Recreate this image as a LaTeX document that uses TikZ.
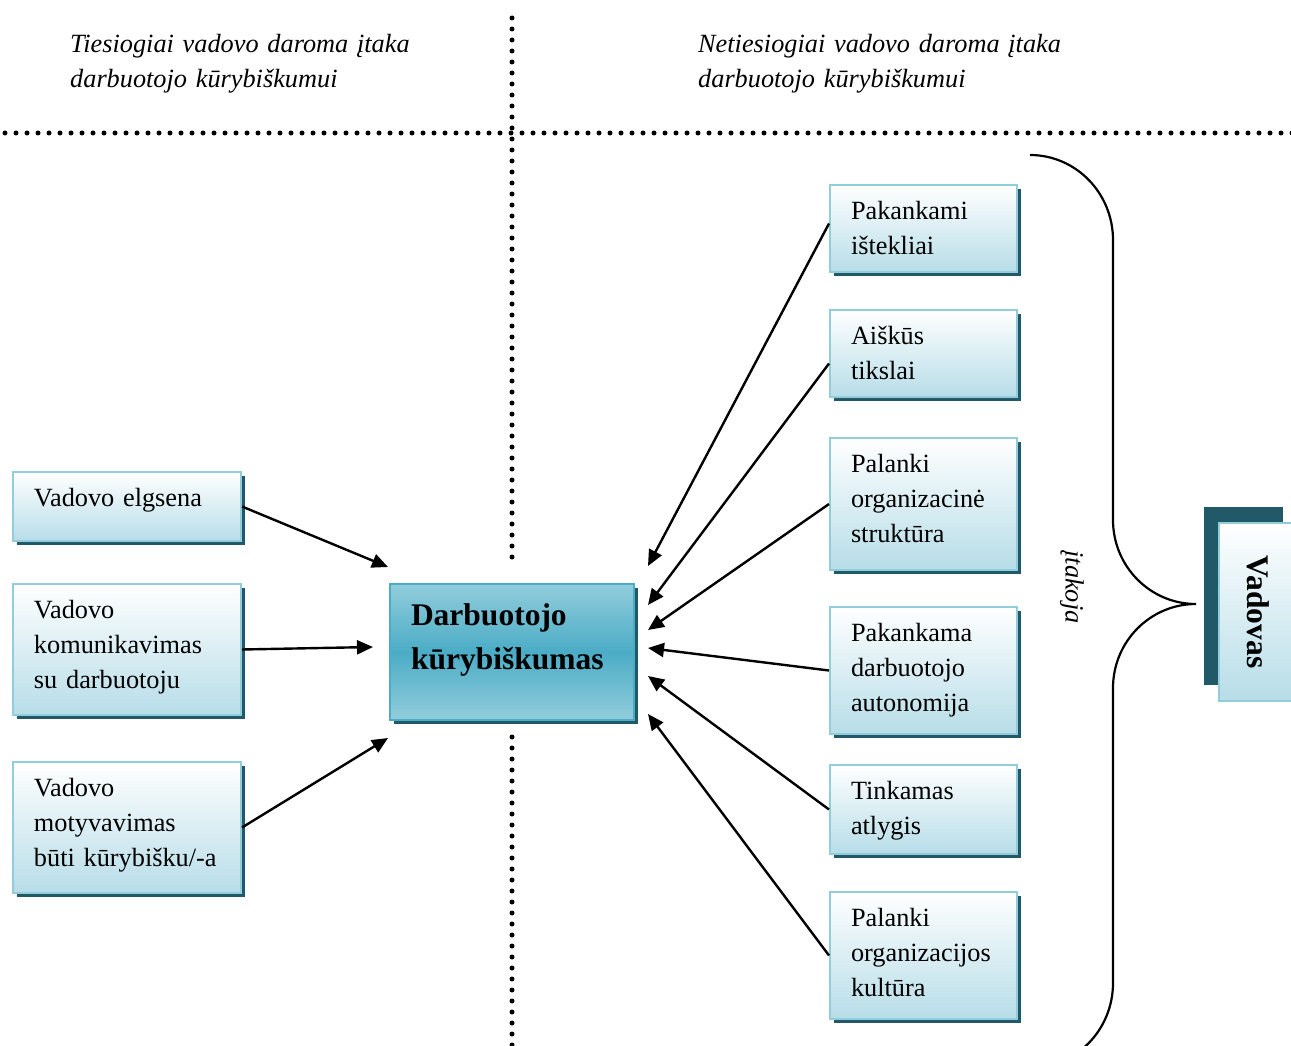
\documentclass[tikz,border=0pt]{standalone}
\usepackage{fontspec}
\setmainfont{Liberation Serif}
\usetikzlibrary{arrows.meta}
\usetikzlibrary{shadows}
\definecolor{boxline}{HTML}{92CDDC}
\definecolor{boxblue}{HTML}{B7DDE8}
\definecolor{coreblue}{HTML}{4BACC6}
\definecolor{shadowteal}{HTML}{215968}
\newcommand{\factorfont}{\fontsize{26.3}{35}\selectfont}
\newcommand{\keyfont}{\fontsize{31.5}{44}\selectfont\bfseries}
\hyphenpenalty=10000
\tikzset{
    panel/.style={
    draw=boxline,
    line width=2pt,
    top color=white,
    bottom color=boxblue,
    anchor=north west
    },
    factor/.style={
    panel,
    drop shadow={shadow xshift=4pt,shadow yshift=-4pt,fill=shadowteal,opacity=1},
    inner xsep=21pt,
    inner ysep=0pt,
    text height=34pt,
    align=left,
    font=\factorfont
    },
    leader/.style={
    panel,
    drop shadow={shadow xshift=-15pt,shadow yshift=16pt,fill=shadowteal,opacity=1},
    minimum width=79pt,
    minimum height=178pt,
    inner sep=0pt,
    font=\keyfont
    },
    heading/.style={anchor=base west,inner sep=0pt,text width=420pt,align=left,font=\factorfont\itshape},
    influence/.style={line width=2.4pt,-{Triangle[length=16pt,width=14pt]}},
    divider/.style={line width=5pt,line cap=round,dash pattern=on 0pt off 11pt}
}

\begin{document}
\begin{tikzpicture}[x=1pt,y=-1pt]
\useasboundingbox (0,0) rectangle (1291,1046);
% dotted dividers
\draw[divider] (5,133) -- (1296,133);
\draw[divider] (512,18) -- (512,567);
\draw[divider] (512,737) -- (512,1046);
\node[heading] (direct) at (70,53) {Tiesiogiai vadovo daroma įtaka\\darbuotojo kūrybiškumui};
\node[heading] (indirect) at (698,53) {Netiesiogiai vadovo daroma įtaka\\darbuotojo kūrybiškumui};
% direct influence
\node[factor,text width=186pt,text depth=35pt] (elgsena) at (12,471) {Vadovo elgsena};
\node[factor,text width=186pt,text depth=97pt] (komunik) at (12,583) {Vadovo\\komunikavimas\\su darbuotoju};
\node[factor,text width=186pt,text depth=97pt] (motyv) at (12,761) {Vadovo\\motyvavimas\\būti kūrybišku/-a};
% employee creativity
\node[panel,draw=coreblue,top color=boxline,bottom color=boxline,middle color=coreblue,
    drop shadow={shadow xshift=4pt,shadow yshift=-4pt,fill=shadowteal,opacity=1},
    inner xsep=21pt,inner ysep=0pt,text width=202pt,text height=41pt,text depth=95pt,
    align=left,font=\keyfont] (kuryb) at (389,583) {Darbuotojo\\kūrybiškumas};
% indirect influence
\node[factor,text width=145pt,text depth=53pt] (istekliai) at (829,184) {Pakankami\\ištekliai};
\node[factor,text width=145pt,text depth=53pt] (tikslai) at (829,309) {Aiškūs\\tikslai};
\node[factor,text width=145pt,text depth=98pt] (struktura) at (829,437) {Palanki\\organizacinė\\struktūra};
\node[factor,text width=145pt,text depth=93pt] (autonomija) at (829,606) {Pakankama\\darbuotojo\\autonomija};
\node[factor,text width=145pt,text depth=55pt] (atlygis) at (829,764) {Tinkamas\\atlygis};
\node[factor,text width=145pt,text depth=93pt] (kultura) at (829,891) {Palanki\\organizacijos\\kultūra};
% arrow ends round the centre box
\coordinate (inA) at (388,567);
\coordinate (inB) at (373,647);
\coordinate (inC) at (388,738);
\coordinate (in1) at (648,566);
\coordinate (in2) at (648,605);
\coordinate (in3) at (648,630);
\coordinate (in4) at (648,648);
\coordinate (in5) at (648,676);
\coordinate (in6) at (648,714);
\draw[influence] (elgsena.east) -- (inA);
\draw[influence] (komunik.east) -- (inB);
\draw[influence] (motyv.east) -- (inC);
\draw[influence] ([yshift=5pt]istekliai.west) -- (in1);
\draw[influence] ([yshift=-10pt]tikslai.west) -- (in2);
\draw[influence] (struktura.west) -- (in3);
\draw[influence] (autonomija.west) -- (in4);
\draw[influence] (atlygis.west) -- (in5);
\draw[influence] (kultura.west) -- (in6);
% brace and leader
\draw[line width=2.2pt] (1030,155) arc[start angle=-90,end angle=0,x radius=83,y radius=85] -- (1113,520)
    arc[start angle=180,end angle=90,x radius=83,y radius=84]
    arc[start angle=270,end angle=180,x radius=83,y radius=84] -- (1113,983)
    arc[start angle=0,end angle=90,x radius=83,y radius=85];
\node[rotate=-90,font=\factorfont\itshape] (itakoja) at (1072,587) {įtakoja};
\node[leader] (vadovas) at (1218,522) {\rotatebox{-90}{Vadovas}};
\end{tikzpicture}
\end{document}
